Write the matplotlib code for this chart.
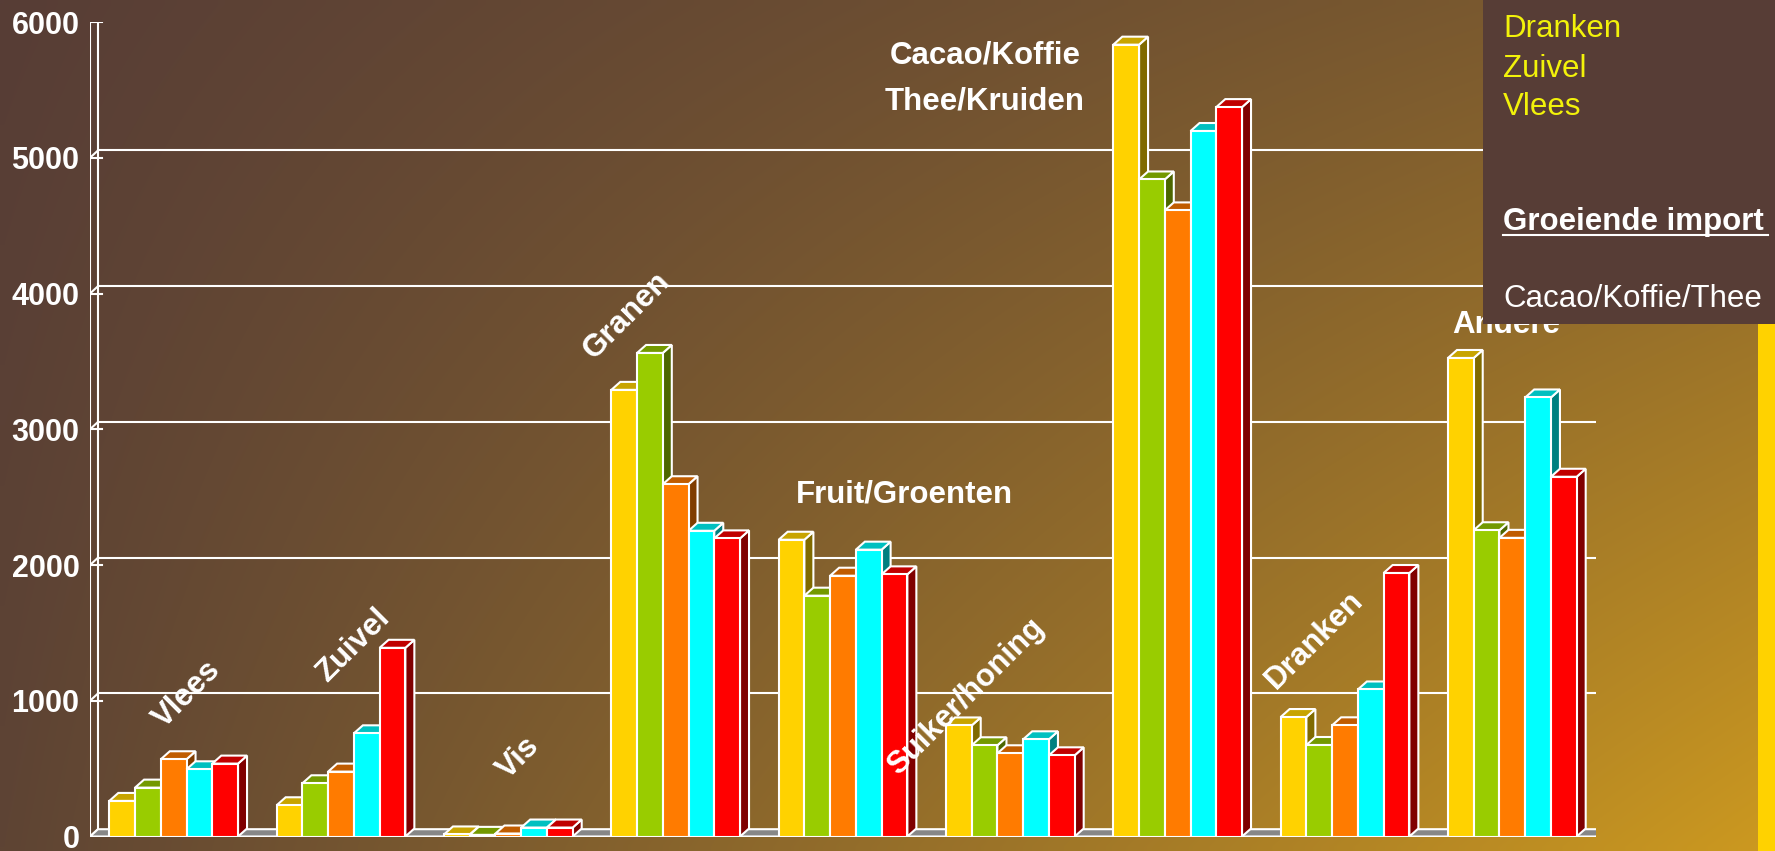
import numpy as np
import matplotlib
matplotlib.use("Agg")
import matplotlib.pyplot as plt
from matplotlib.patches import Polygon, Rectangle
from matplotlib.lines import Line2D

plt.rcParams['font.family'] = ['Liberation Sans', 'DejaVu Sans']

# ---------------- data ----------------
categories = ["Vlees", "Zuivel", "Vis", "Granen", "Fruit/Groenten",
              "Suiker/honing", "Cacao/Koffie\nThee/Kruiden", "Dranken", "Andere"]
series_1 = [262, 230, 15, 3290, 2186, 818, 5833, 880, 3525]
series_2 = [360, 392, 12, 3562, 1774, 672, 4840, 674, 2256]
series_3 = [569, 478, 22, 2595, 1921, 613, 4612, 819, 2200]
series_4 = [495, 760, 66, 2252, 2113, 716, 5197, 1083, 3234]
series_5 = [537, 1390, 66, 2196, 1931, 598, 5373, 1941, 2650]
y_ticks = [0, 1000, 2000, 3000, 4000, 5000, 6000]
legend_lines = ["Dranken", "Zuivel", "Vlees"]
panel_title = "Groeiende import"
panel_text = "Cacao/Koffie/Thee"

series = [series_1, series_2, series_3, series_4, series_5]
front_cols = ["#FFD200", "#99CC00", "#FF7B00", "#00FFFF", "#FF0000"]
top_cols = ["#C8A400", "#739900", "#C05C00", "#00C0C0", "#C00000"]
side_cols = ["#806A00", "#4C6600", "#803D00", "#008080", "#800000"]

W, H = 1775, 851
fig = plt.figure(figsize=(W / 100, H / 100), dpi=100)

# ---------------- background gradient ----------------
bg = fig.add_axes([0, 0, 1, 1], zorder=-10)
bg.set_axis_off()
nx, ny = 200, 100
xx = np.linspace(0, 1, nx)[None, :]
yy = np.linspace(0, 1, ny)[:, None]  # 0 = top
TL = np.array([87, 61, 54]); TR = np.array([128, 94, 46])
BL = np.array([94, 68, 52]); BR = np.array([204, 153, 32])
top = TL[None, None, :] * (1 - xx[..., None]) + TR[None, None, :] * xx[..., None]
bot = BL[None, None, :] * (1 - xx[..., None]) + BR[None, None, :] * xx[..., None]
img = top * (1 - yy[..., None]) + bot * yy[..., None]
bg.imshow(img / 255.0, extent=[0, 1, 0, 1], aspect='auto', interpolation='bilinear')
bg.set_xlim(0, 1); bg.set_ylim(0, 1)

# ---------------- main axes (front plane) ----------------
fx0, fx1 = 90, 1596
fy_top, fy_bot = 22, 836.5
ax = fig.add_axes([fx0 / W, 1 - fy_bot / H, (fx1 - fx0) / W, (fy_bot - fy_top) / H])
ax.set_facecolor('none')
ncat = len(categories)
ax.set_xlim(0, ncat)
ax.set_ylim(0, 6000)
for s in ax.spines.values():
    s.set_visible(False)
ax.set_xticks([])
ax.set_yticks(y_ticks)
ax.set_yticklabels([str(t) for t in y_ticks])
ax.tick_params(axis='y', length=0, pad=7.5, labelsize=22, labelcolor='white')
for lab in ax.get_yticklabels():
    lab.set_fontweight('bold')

pxx = ncat / (fx1 - fx0)
pxy = 6000 / (fy_bot - fy_top)
dx, dy = 8.0 * pxx, 7.3 * pxy          # wall depth
bdx, bdy = 9.0 * pxx, 8.0 * pxy        # bar depth
lw = 1.5
wc = 'white'

# back wall gridlines
for t in y_ticks[1:]:
    ax.add_line(Line2D([dx, ncat + dx], [t + dy, t + dy], color=wc, lw=lw, zorder=1))
ax.add_line(Line2D([dx, dx], [dy, 6000 + dy], color=wc, lw=lw, zorder=1))
ax.add_line(Line2D([ncat + dx, ncat + dx], [dy, 6000 + dy], color=wc, lw=lw, zorder=1))
# front axis + tick marks
ax.add_line(Line2D([0, 0], [0, 6000], color=wc, lw=lw, zorder=2))
for t in y_ticks:
    ax.add_line(Line2D([0, dx], [t, t + dy], color=wc, lw=lw, zorder=2))
    ax.add_line(Line2D([0, 11.5 * pxx], [t, t], color=wc, lw=lw, zorder=2))
# floor
ax.add_patch(Polygon([(0, 0), (ncat, 0), (ncat + dx, dy), (dx, dy)], closed=True,
                     facecolor='#878787', edgecolor=wc, lw=lw, zorder=3))

# bars
bw = 1 / 6.5
gap0 = 0.75 / 6.5
xpos = np.arange(ncat)
for j, vals in enumerate(series):
    lefts = xpos + gap0 + j * bw
    bars = ax.bar(lefts, vals, width=bw, align='edge', color=front_cols[j],
                  edgecolor=wc, linewidth=lw)
    for i, (rect, v) in enumerate(zip(bars, vals)):
        z = 10 + (i * 5 + j) * 3
        x0 = lefts[i]
        ax.add_patch(Polygon([(x0 + bw, 0), (x0 + bw + bdx, bdy), (x0 + bw + bdx, v + bdy), (x0 + bw, v)],
                             closed=True, facecolor=side_cols[j], edgecolor=wc, lw=lw, zorder=z))
        ax.add_patch(Polygon([(x0, v), (x0 + bw, v), (x0 + bw + bdx, v + bdy), (x0 + bdx, v + bdy)],
                             closed=True, facecolor=top_cols[j], edgecolor=wc, lw=lw, zorder=z + 1))
        rect.set_zorder(z + 2)

# category labels (pixel positions in figure)
def ftxt(x, y, s, **kw):
    fig.text(x / W, 1 - y / H, s, color='white', fontsize=22.5, fontweight='bold', zorder=5, **kw)

ftxt(187, 694, categories[0], rotation=45, ha='center', va='center')
ftxt(353, 645, categories[1], rotation=45, ha='center', va='center')
ftxt(518, 758, categories[2], rotation=45, ha='center', va='center')
ftxt(627, 316, categories[3], rotation=45, ha='center', va='center')
ftxt(904, 503, categories[4], ha='center', va='baseline')
ftxt(966, 697, categories[5], rotation=45, ha='center', va='center')
c1, c2 = categories[6].split("\n")
ftxt(985, 63, c1, ha='center', va='baseline')
ftxt(985, 110, c2, ha='center', va='baseline')
ftxt(1314, 640, categories[7], rotation=45, ha='center', va='center')
ftxt(1506, 333, categories[8], ha='center', va='baseline')

# ---------------- overlay panel ----------------
ov = fig.add_axes([0, 0, 1, 1], zorder=20)
ov.set_axis_off()
ov.set_xlim(0, W); ov.set_ylim(H, 0)
ov.add_patch(Rectangle((1483, 0), W - 1483, 324, facecolor='#573D36', edgecolor='none'))
ov.add_patch(Rectangle((1758, 324), W - 1758, H - 324, facecolor='#FFD200', edgecolor='none'))
for s, yb in zip(legend_lines, [37, 77, 115]):
    ov.text(1503, yb, s, color='#F2F20A', fontsize=22.5, ha='left', va='baseline')
ov.text(1503, 230, panel_title, color='white', fontsize=22.5, fontweight='bold', ha='left', va='baseline')
ov.add_line(Line2D([1503, 1768], [234.5, 234.5], color='white', lw=1.5))
ov.text(1503, 307, panel_text, color='white', fontsize=22.5, ha='left', va='baseline')

fig.savefig("out.png", dpi=100)
